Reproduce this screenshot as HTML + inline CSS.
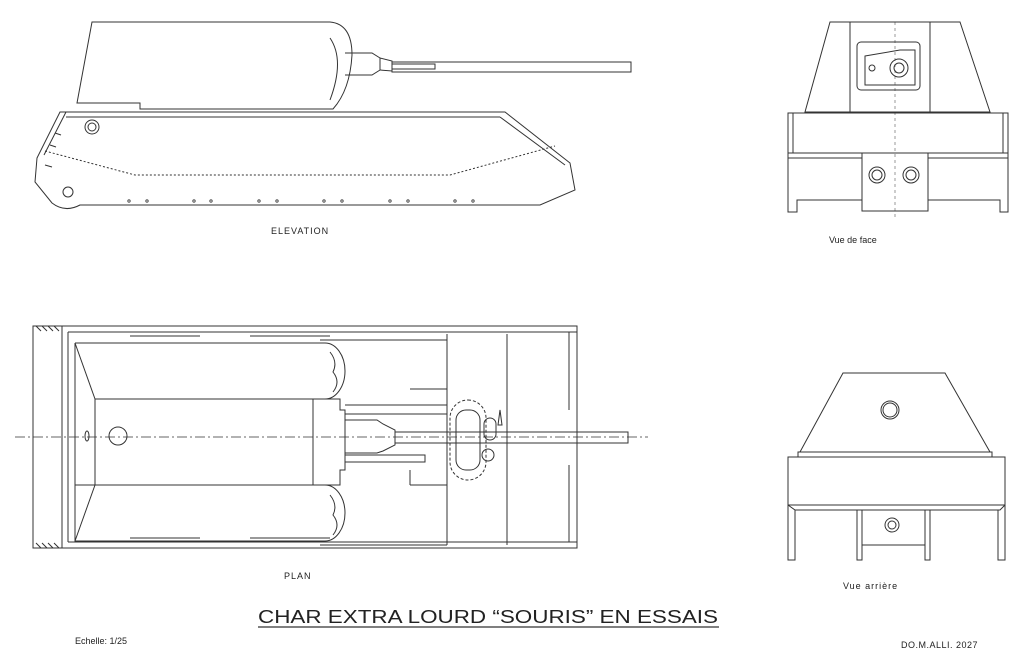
<!DOCTYPE html>
<html><head><meta charset="utf-8"><style>
html,body{margin:0;padding:0;background:#fff;}
svg{display:block;}
text{font-family:"Liberation Sans",sans-serif;fill:#222;}
</style></head><body>
<svg width="1024" height="658" viewBox="0 0 1024 658" xmlns="http://www.w3.org/2000/svg">
<g fill="none" stroke="#333" stroke-width="1">
<!-- ELEVATION turret -->
<path d="M92,22 L330,22 Q352,24 352,55 Q350,90 333,109 L140,109 L140,103 L77,103 Z"/>
<path d="M330,38 Q345,60 330,100"/>
<path d="M345,53 L372,53 L380,58 L380,70 L372,75 L345,75"/>
<path d="M380,58 L392,61 L392,71 L380,70"/>
<rect x="392" y="62" width="239" height="10"/>
<path d="M392,64 L435,64 L435,69 L392,69"/>
<!-- hull -->
<path d="M60,112 L505,112 L570,163 L575,190 L540,205 L80,205 Q65,213 52,203 L35,182 L37,158 Z"/>
<line x1="66" y1="117" x2="500" y2="117"/>
<line x1="66" y1="112" x2="44" y2="155"/>
<line x1="500" y1="117" x2="565" y2="165"/>
<line x1="45" y1="165" x2="52" y2="167"/>
<line x1="50" y1="145" x2="56" y2="147"/>
<line x1="55" y1="133" x2="61" y2="135"/>
<path d="M45,151 L135,175 L450,175 L555,146" stroke-dasharray="2,2"/>
<circle cx="92" cy="127" r="7"/><circle cx="92" cy="127" r="4"/>
<circle cx="68" cy="192" r="5"/>
<g stroke-width="0.8">
<circle cx="129" cy="201" r="1.2"/><circle cx="147" cy="201" r="1.2"/>
<circle cx="194" cy="201" r="1.2"/><circle cx="211" cy="201" r="1.2"/>
<circle cx="259" cy="201" r="1.2"/><circle cx="277" cy="201" r="1.2"/>
<circle cx="324" cy="201" r="1.2"/><circle cx="342" cy="201" r="1.2"/>
<circle cx="390" cy="201" r="1.2"/><circle cx="408" cy="201" r="1.2"/>
<circle cx="455" cy="201" r="1.2"/><circle cx="473" cy="201" r="1.2"/>
</g>

<!-- PLAN -->
<rect x="33" y="326" width="544" height="222"/>
<line x1="62" y1="326" x2="62" y2="548"/>
<line x1="68" y1="332" x2="68" y2="542"/>
<line x1="68" y1="332" x2="577" y2="332"/>
<line x1="68" y1="542" x2="577" y2="542"/>
<path d="M36,326 l5,5 M42,326 l5,5 M48,326 l5,5 M54,326 l5,5 M36,543 l5,5 M42,543 l5,5 M48,543 l5,5 M54,543 l5,5"/>
<!-- turret plan -->
<path d="M75,343 L325,343 A20,28 0 0 1 325,399 L95,399"/>
<path d="M75,485 L325,485 A20,28 0 0 1 325,541 L75,541 Z"/>
<line x1="75" y1="343" x2="75" y2="541"/>
<line x1="75" y1="343" x2="95" y2="399"/>
<line x1="75" y1="541" x2="95" y2="485"/>
<line x1="95" y1="399" x2="95" y2="485"/>
<path d="M330,352 q8,10 3,20 q8,10 0,20 M330,495 q8,10 3,20 q8,10 0,20"/>
<path d="M313,399 L313,485"/>
<path d="M320,340 L447,340 M320,545 L447,545 M320,399 L340,399 L340,410 L345,410 L345,470 L340,470 L340,485 L320,485"/>
<line x1="447" y1="334" x2="447" y2="545"/>
<line x1="507" y1="334" x2="507" y2="545"/>
<line x1="569" y1="332" x2="569" y2="410"/>
<line x1="569" y1="465" x2="569" y2="542"/>
<path d="M345,420 L377,420 L383,424 L395,430 L395,445 L383,451 L377,453 L345,453"/>
<rect x="395" y="432" width="233" height="11"/>
<rect x="345" y="455" width="80" height="7"/>
<path d="M345,405 L447,405 M345,414 L447,414 M410,389 L447,389 L447,405 M410,485 L447,485 M410,470 L410,485"/>
<rect x="450" y="400" width="36" height="80" rx="18" stroke-dasharray="3,2"/>
<rect x="456" y="410" width="24" height="60" rx="10"/>
<rect x="484" y="418" width="12" height="22" rx="6"/>
<circle cx="488" cy="455" r="6"/>
<path d="M500,410 L502,425 L498,425 Z"/>
<circle cx="118" cy="436" r="9"/>
<ellipse cx="87" cy="436" rx="2" ry="5"/>
<line x1="15" y1="437" x2="648" y2="437" stroke-dasharray="10,3,2,3" stroke-width="0.7"/>
<path d="M130,336 L200,336 M250,336 L330,336 M130,538 L200,538 M250,538 L330,538"/>

<!-- Vue de face -->
<path d="M830,22 L960,22 L990,112 L805,112 Z"/>
<line x1="850" y1="22" x2="850" y2="112"/>
<line x1="930" y1="22" x2="930" y2="112"/>
<rect x="857" y="42" width="63" height="48" rx="4"/>
<path d="M865,56 L900,50 L915,50 L915,85 L865,85 Z"/>
<circle cx="899" cy="68" r="9"/><circle cx="899" cy="68" r="5"/>
<circle cx="872" cy="68" r="3"/>
<rect x="788" y="113" width="220" height="40"/>
<line x1="793" y1="113" x2="793" y2="153"/><line x1="1003" y1="113" x2="1003" y2="153"/>
<path d="M788,158 L862,158 M928,158 L1008,158 M788,153 L788,212 L797,212 L797,200 L862,200 M1008,153 L1008,212 L1000,212 L1000,200 L928,200"/>
<rect x="862" y="153" width="66" height="58"/>
<circle cx="877" cy="175" r="8"/><circle cx="877" cy="175" r="5"/>
<circle cx="911" cy="175" r="8"/><circle cx="911" cy="175" r="5"/>
<line x1="895" y1="22" x2="895" y2="220" stroke-dasharray="3,3" stroke-width="0.5"/>

<!-- Vue arriere -->
<path d="M843,373 L945,373 L990,452 L800,452 Z"/>
<rect x="798" y="452" width="194" height="5"/>
<circle cx="890" cy="410" r="9"/><circle cx="890" cy="410" r="7"/>
<rect x="788" y="457" width="217" height="48"/>
<path d="M788,505 L795,510 L1000,510 L1005,505"/>
<path d="M788,505 L788,560 L795,560 L795,510 M1005,505 L1005,560 L998,560 L998,510"/>
<path d="M857,510 L857,560 L862,560 L862,510 M925,510 L925,560 L930,560 L930,510 M862,545 L925,545"/>
<circle cx="892" cy="525" r="7"/><circle cx="892" cy="525" r="4"/>
</g>
<text x="271" y="234" font-size="9" letter-spacing="1">ELEVATION</text>
<text x="829" y="243" font-size="9">Vue de face</text>
<text x="284" y="579" font-size="9" letter-spacing="1">PLAN</text>
<text x="843" y="589" font-size="9" letter-spacing="1">Vue  arrière</text>
<text x="258" y="623" font-size="18" textLength="460" lengthAdjust="spacingAndGlyphs">CHAR  EXTRA LOURD “SOURIS”  EN  ESSAIS</text>
<line x1="258" y1="627" x2="719" y2="627" stroke="#333" stroke-width="1.3"/>
<text x="75" y="644" font-size="9">Echelle: 1/25</text>
<text x="901" y="648" font-size="9" letter-spacing="0.5">DO.M.ALLI. 2027</text>
</svg>
</body></html>
